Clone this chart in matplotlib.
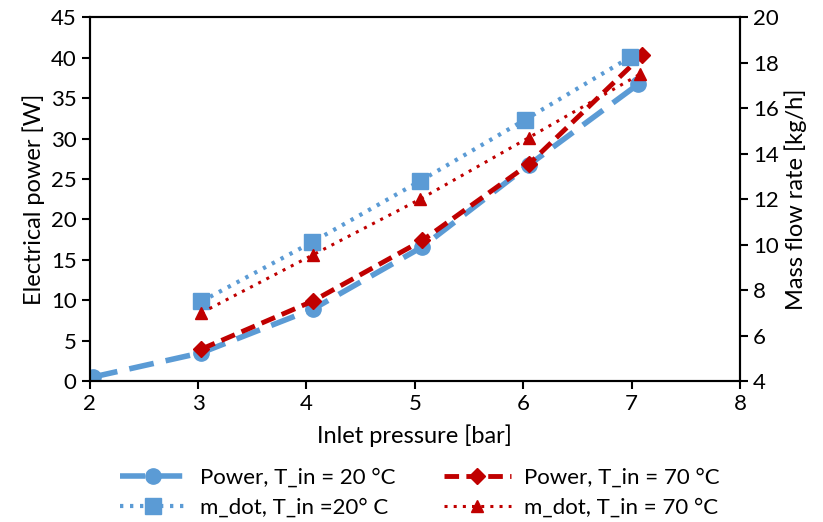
import matplotlib.pyplot as plt
from matplotlib.ticker import MultipleLocator

# values
p_power_20 = [2.03, 3.03, 4.06, 5.07, 6.05, 7.06]
power_20 = [0.5, 3.5, 8.9, 16.6, 26.7, 36.7]
p_power_70 = [3.03, 4.06, 5.07, 6.05, 7.1]
power_70 = [3.95, 9.9, 17.4, 26.8, 40.3]
p_mdot_20 = [3.03, 4.05, 5.05, 6.02, 6.99]
mdot_20 = [7.5, 10.1, 12.8, 15.5, 18.25]
p_mdot_70 = [3.03, 4.06, 5.05, 6.05, 7.08]
mdot_70 = [7.0, 9.55, 12.0, 14.7, 17.5]

blue = "#5B9BD5"
red = "#C00000"

plt.rcParams['font.family'] = ['Lato', 'DejaVu Sans']
plt.rcParams['font.size'] = 16

fig = plt.figure(figsize=(8.23, 5.22), dpi=100)
ax = fig.add_axes([0.109, 0.270, 0.790, 0.697])
ax2 = ax.twinx()

l1, = ax.plot(p_power_20, power_20, color=blue, lw=4, dashes=(4.5, 2.2),
              marker='o', ms=11, label="Power, T_in = 20 °C")
l2, = ax.plot(p_power_70, power_70, color=red, lw=3.5, dashes=(3, 1.5),
              marker='D', ms=8, label="Power, T_in = 70 °C")
l3, = ax2.plot(p_mdot_20, mdot_20, color=blue, lw=3, linestyle=(0, (0.8, 1.6)),
               marker='s', ms=11, label="m_dot, T_in =20° C")
l4, = ax2.plot(p_mdot_70, mdot_70, color=red, lw=2.2, linestyle=(0, (1, 2)),
               marker='^', ms=9, label="m_dot, T_in = 70 °C")

ax.set_xlim(2, 8)
ax.set_ylim(0, 45)
ax2.set_ylim(4, 20)
ax.xaxis.set_major_locator(MultipleLocator(1))
ax.yaxis.set_major_locator(MultipleLocator(5))
ax2.yaxis.set_major_locator(MultipleLocator(2))

ax.set_xlabel("Inlet pressure [bar]", fontsize=17, labelpad=7)
ax.set_ylabel("Electrical power [W]", fontsize=17)
ax2.set_ylabel("Mass flow rate [kg/h]", fontsize=17)

for a in (ax, ax2):
    a.tick_params(direction='out', length=6, width=1.5)
    for s in a.spines.values():
        s.set_linewidth(1.5)

fig.legend(handles=[l1, l3, l2, l4], loc='lower center', ncol=2,
           bbox_to_anchor=(0.51, -0.03), frameon=False, handlelength=3.0,
           handletextpad=0.6, columnspacing=2.2, fontsize=16, labelspacing=0.45)

plt.savefig("out.png")
